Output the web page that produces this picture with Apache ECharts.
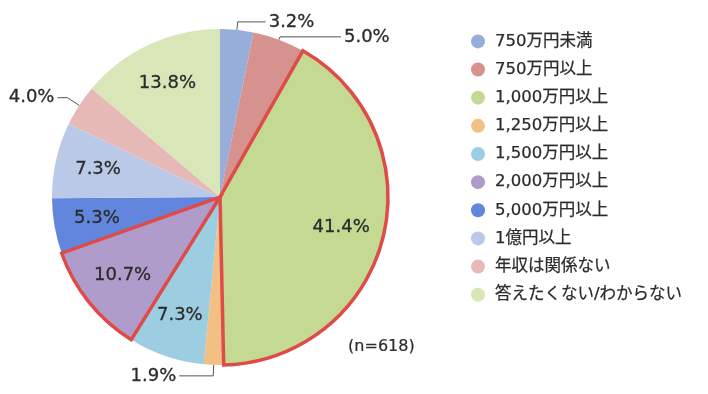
<!DOCTYPE html>
<html>
<head>
<meta charset="utf-8">
<script src="https://cdn.jsdelivr.net/npm/echarts@6/dist/echarts.min.js"></script>
<style>
html,body{margin:0;padding:0;background:#fff;}
#c{width:708px;height:394px;}
</style>
</head>
<body>
<div id="c"></div>
<script>
const categories = ['750万円未満','750万円以上','1,000万円以上','1,250万円以上','1,500万円以上','2,000万円以上','5,000万円以上','1億円以上','年収は関係ない','答えたくない/わからない'];
const values = [3.2, 5.0, 41.4, 1.9, 7.3, 10.7, 5.3, 7.3, 4.0, 13.8];
const highlighted = ['1,000万円以上','2,000万円以上'];
const sampleNote = '(n=618)';

const colors = ['#97aedb','#d6928f','#c4da93','#f2bf85','#9dcde0','#b09ccb','#6285dd','#b9c9e7','#e6b8b6','#d8e6b8'];
const FONT = '"DejaVu Sans","Noto Sans CJK JP",sans-serif';
const TXT = '#2b2b2b';
const CENTER = [220, 197];
const R = 168;
// outside-label styling per slice (lengths of leader line)
const outsideCfg = {
  0: {length: 8, length2: 28},
  1: {length: 3, length2: 61},
  3: {length: 11, length2: 34},
  8: {length: 14, length2: 10}
};

const chart = echarts.init(document.getElementById('c'));

const baseData = categories.map((n, i) => ({name: n, value: values[i], itemStyle: {color: colors[i]}}));
const borderData = categories.map((n, i) => ({
  value: values[i],
  itemStyle: highlighted.includes(n)
    ? {color: 'rgba(0,0,0,0)', borderColor: '#de4b49', borderWidth: 3.5, borderJoin: 'miter'}
    : {color: 'rgba(0,0,0,0)', borderWidth: 0}
}));
const labelData = categories.map((n, i) => {
  const o = outsideCfg[i];
  return o ? {
    value: values[i],
    label: {position: 'outside'},
    labelLine: {show: true, length: o.length, length2: o.length2}
  } : {
    value: values[i],
    label: {position: 'inside'},
    labelLine: {show: false}
  };
});

chart.setOption({
  animation: false,
  color: colors,
  legend: {
    orient: 'vertical',
    left: 466,
    top: 28,
    icon: 'circle',
    itemWidth: 14,
    itemHeight: 14,
    itemGap: 11.4,
    data: categories,
    textStyle: {fontFamily: FONT, fontSize: 16.5, color: TXT, padding: [0, 0, 0, 5],
      textBorderColor: TXT, textBorderWidth: 0.25}
  },
  graphic: [{
    type: 'text',
    left: 348,
    top: 339,
    style: {text: sampleNote, font: '16px ' + FONT, fill: TXT, stroke: TXT, lineWidth: 0.2}
  }],
  series: [
    {
      type: 'pie',
      center: CENTER,
      radius: [0, R],
      startAngle: 90,
      clockwise: true,
      silent: true,
      label: {show: false},
      labelLine: {show: false},
      itemStyle: {borderWidth: 0},
      data: baseData,
      z: 1
    },
    {
      type: 'pie',
      center: CENTER,
      radius: [0, R],
      startAngle: 90,
      clockwise: true,
      silent: true,
      label: {show: false},
      labelLine: {show: false},
      data: borderData,
      z: 2
    },
    {
      type: 'pie',
      center: CENTER,
      radius: [76, R],
      startAngle: 90,
      clockwise: true,
      silent: true,
      avoidLabelOverlap: false,
      itemStyle: {color: 'rgba(0,0,0,0)', borderWidth: 0},
      label: {
        show: true,
        formatter: p => p.value.toFixed(1) + '%',
        fontFamily: FONT,
        fontSize: 18,
        color: TXT,
        textBorderColor: TXT,
        textBorderWidth: 0.3,
        distanceToLabelLine: 3
      },
      labelLine: {lineStyle: {color: '#555', width: 1}},
      data: labelData,
      z: 3
    }
  ]
});
</script>
</body>
</html>
